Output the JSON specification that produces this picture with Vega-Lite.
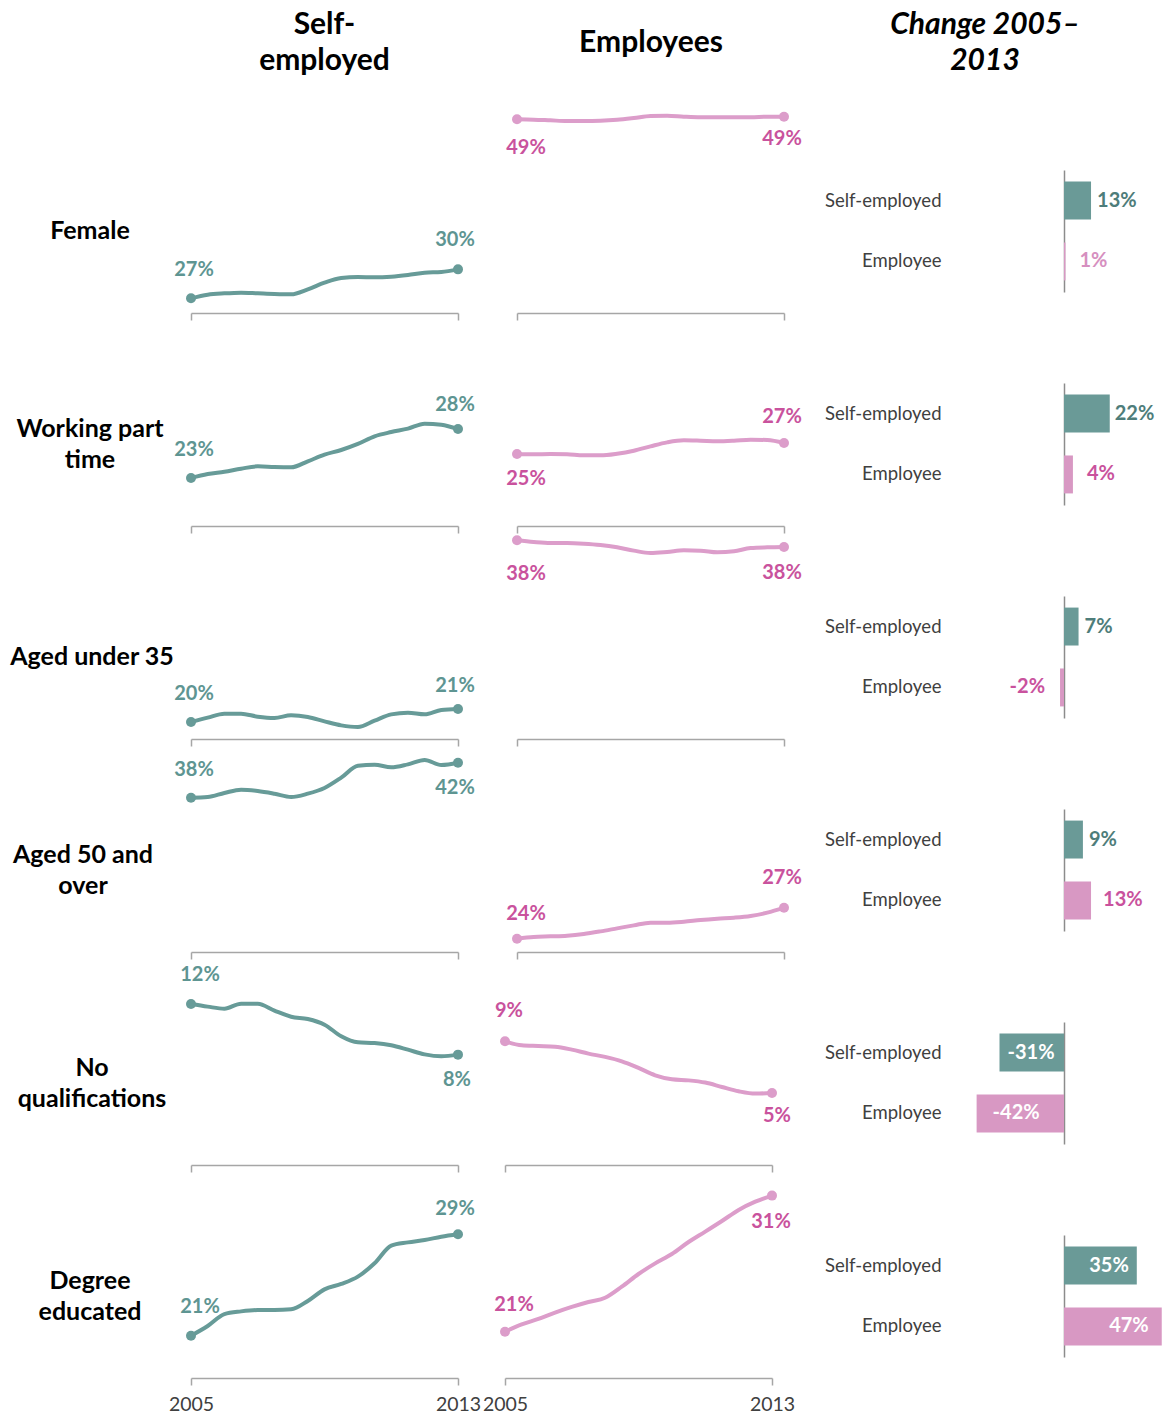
{
"$schema": "https://vega.github.io/schema/vega-lite/v6.json",
"padding": 0,
"background": "white",
"config": {
  "view": {"stroke": null},
  "font": "Lato",
  "locale": {"number": {"decimal": ".", "thousands": ",", "grouping": [3], "currency": ["$", ""], "minus": "-"}},
  "axis": {"grid": false, "title": null, "domainColor": "#a6a6a6", "domainWidth": 1.5, "tickColor": "#a6a6a6", "tickWidth": 1.5, "tickSize": 7, "labelFont": "Lato", "labelFontSize": 19.5, "labelColor": "#404040", "labelPadding": 10, "labelFlush": false, "labelOverlap": false},
  "text": {"font": "Lato", "baseline": "middle"},
  "line": {"strokeWidth": 4, "interpolate": "monotone"},
  "circle": {"size": 100, "opacity": 1}
},
"datasets": {
  "headers": [
    {"col": "SE", "title": "Self-\nemployed"},
    {"col": "Emp", "title": "Employees"},
    {"col": "Change", "title": "Change 2005–\n2013"}
  ],
  "rows": [
    {"cat": "Female", "label": "Female"},
    {"cat": "Working part time", "label": "Working part\ntime"},
    {"cat": "Aged under 35", "label": "Aged under 35"},
    {"cat": "Aged 50 and over", "label": "Aged 50 and\nover"},
    {"cat": "No qualifications", "label": "No\nqualifications"},
    {"cat": "Degree educated", "label": "Degree\neducated"}
  ],
  "change": [
    {"cat": "Female", "grp": "Self-employed", "change": 0.13},
    {"cat": "Female", "grp": "Employee", "change": 0.007},
    {"cat": "Working part time", "grp": "Self-employed", "change": 0.22},
    {"cat": "Working part time", "grp": "Employee", "change": 0.043},
    {"cat": "Aged under 35", "grp": "Self-employed", "change": 0.07},
    {"cat": "Aged under 35", "grp": "Employee", "change": -0.019},
    {"cat": "Aged 50 and over", "grp": "Self-employed", "change": 0.091},
    {"cat": "Aged 50 and over", "grp": "Employee", "change": 0.13},
    {"cat": "No qualifications", "grp": "Self-employed", "change": -0.31},
    {"cat": "No qualifications", "grp": "Employee", "change": -0.42},
    {"cat": "Degree educated", "grp": "Self-employed", "change": 0.35},
    {"cat": "Degree educated", "grp": "Employee", "change": 0.47}
  ],
  "series": [
    {"cat":"Female","grp":"SE","year":2005,"share":0.266},{"cat":"Female","grp":"SE","year":2005.5,"share":0.2703},{"cat":"Female","grp":"SE","year":2006,"share":0.2719},{"cat":"Female","grp":"SE","year":2006.5,"share":0.2727},{"cat":"Female","grp":"SE","year":2007,"share":0.2719},{"cat":"Female","grp":"SE","year":2007.5,"share":0.2711},{"cat":"Female","grp":"SE","year":2008,"share":0.2707},{"cat":"Female","grp":"SE","year":2008.5,"share":0.2766},{"cat":"Female","grp":"SE","year":2009,"share":0.2844},{"cat":"Female","grp":"SE","year":2009.5,"share":0.2899},{"cat":"Female","grp":"SE","year":2010,"share":0.2911},{"cat":"Female","grp":"SE","year":2010.5,"share":0.2907},{"cat":"Female","grp":"SE","year":2011,"share":0.2915},{"cat":"Female","grp":"SE","year":2011.5,"share":0.2935},{"cat":"Female","grp":"SE","year":2012,"share":0.2962},{"cat":"Female","grp":"SE","year":2012.5,"share":0.297},{"cat":"Female","grp":"SE","year":2013,"share":0.3001},
    {"cat":"Female","grp":"Emp","year":2005,"share":0.487},{"cat":"Female","grp":"Emp","year":2005.5,"share":0.4866},{"cat":"Female","grp":"Emp","year":2006,"share":0.4858},{"cat":"Female","grp":"Emp","year":2006.5,"share":0.485},{"cat":"Female","grp":"Emp","year":2007,"share":0.485},{"cat":"Female","grp":"Emp","year":2007.5,"share":0.4854},{"cat":"Female","grp":"Emp","year":2008,"share":0.4866},{"cat":"Female","grp":"Emp","year":2008.5,"share":0.4886},{"cat":"Female","grp":"Emp","year":2009,"share":0.4909},{"cat":"Female","grp":"Emp","year":2009.5,"share":0.4913},{"cat":"Female","grp":"Emp","year":2010,"share":0.4901},{"cat":"Female","grp":"Emp","year":2010.5,"share":0.4894},{"cat":"Female","grp":"Emp","year":2011,"share":0.4894},{"cat":"Female","grp":"Emp","year":2011.5,"share":0.4894},{"cat":"Female","grp":"Emp","year":2012,"share":0.4894},{"cat":"Female","grp":"Emp","year":2012.5,"share":0.4901},{"cat":"Female","grp":"Emp","year":2013,"share":0.4901},
    {"cat":"Working part time","grp":"SE","year":2005,"share":0.229},{"cat":"Working part time","grp":"SE","year":2005.5,"share":0.2331},{"cat":"Working part time","grp":"SE","year":2006,"share":0.2355},{"cat":"Working part time","grp":"SE","year":2006.5,"share":0.2386},{"cat":"Working part time","grp":"SE","year":2007,"share":0.241},{"cat":"Working part time","grp":"SE","year":2007.5,"share":0.2403},{"cat":"Working part time","grp":"SE","year":2008,"share":0.24},{"cat":"Working part time","grp":"SE","year":2008.5,"share":0.2462},{"cat":"Working part time","grp":"SE","year":2009,"share":0.2531},{"cat":"Working part time","grp":"SE","year":2009.5,"share":0.2579},{"cat":"Working part time","grp":"SE","year":2010,"share":0.2641},{"cat":"Working part time","grp":"SE","year":2010.5,"share":0.272},{"cat":"Working part time","grp":"SE","year":2011,"share":0.2764},{"cat":"Working part time","grp":"SE","year":2011.5,"share":0.2799},{"cat":"Working part time","grp":"SE","year":2012,"share":0.285},{"cat":"Working part time","grp":"SE","year":2012.5,"share":0.284},{"cat":"Working part time","grp":"SE","year":2013,"share":0.2795},
    {"cat":"Working part time","grp":"Emp","year":2005,"share":0.254},{"cat":"Working part time","grp":"Emp","year":2005.5,"share":0.2537},{"cat":"Working part time","grp":"Emp","year":2006,"share":0.254},{"cat":"Working part time","grp":"Emp","year":2006.5,"share":0.2537},{"cat":"Working part time","grp":"Emp","year":2007,"share":0.2526},{"cat":"Working part time","grp":"Emp","year":2007.5,"share":0.2526},{"cat":"Working part time","grp":"Emp","year":2008,"share":0.2543},{"cat":"Working part time","grp":"Emp","year":2008.5,"share":0.2574},{"cat":"Working part time","grp":"Emp","year":2009,"share":0.2619},{"cat":"Working part time","grp":"Emp","year":2009.5,"share":0.266},{"cat":"Working part time","grp":"Emp","year":2010,"share":0.2681},{"cat":"Working part time","grp":"Emp","year":2010.5,"share":0.2677},{"cat":"Working part time","grp":"Emp","year":2011,"share":0.2671},{"cat":"Working part time","grp":"Emp","year":2011.5,"share":0.2677},{"cat":"Working part time","grp":"Emp","year":2012,"share":0.2688},{"cat":"Working part time","grp":"Emp","year":2012.5,"share":0.2684},{"cat":"Working part time","grp":"Emp","year":2013,"share":0.2653},
    {"cat":"Aged under 35","grp":"SE","year":2005,"share":0.2},{"cat":"Aged under 35","grp":"SE","year":2005.5,"share":0.2047},{"cat":"Aged under 35","grp":"SE","year":2006,"share":0.209},{"cat":"Aged under 35","grp":"SE","year":2006.5,"share":0.209},{"cat":"Aged under 35","grp":"SE","year":2007,"share":0.2057},{"cat":"Aged under 35","grp":"SE","year":2007.5,"share":0.2043},{"cat":"Aged under 35","grp":"SE","year":2008,"share":0.2072},{"cat":"Aged under 35","grp":"SE","year":2008.5,"share":0.2054},{"cat":"Aged under 35","grp":"SE","year":2009,"share":0.2007},{"cat":"Aged under 35","grp":"SE","year":2009.5,"share":0.1964},{"cat":"Aged under 35","grp":"SE","year":2010,"share":0.1946},{"cat":"Aged under 35","grp":"SE","year":2010.5,"share":0.2014},{"cat":"Aged under 35","grp":"SE","year":2011,"share":0.2082},{"cat":"Aged under 35","grp":"SE","year":2011.5,"share":0.21},{"cat":"Aged under 35","grp":"SE","year":2012,"share":0.2082},{"cat":"Aged under 35","grp":"SE","year":2012.5,"share":0.2129},{"cat":"Aged under 35","grp":"SE","year":2013,"share":0.214},
    {"cat":"Aged under 35","grp":"Emp","year":2005,"share":0.384},{"cat":"Aged under 35","grp":"Emp","year":2005.5,"share":0.3822},{"cat":"Aged under 35","grp":"Emp","year":2006,"share":0.3811},{"cat":"Aged under 35","grp":"Emp","year":2006.5,"share":0.3811},{"cat":"Aged under 35","grp":"Emp","year":2007,"share":0.3804},{"cat":"Aged under 35","grp":"Emp","year":2007.5,"share":0.379},{"cat":"Aged under 35","grp":"Emp","year":2008,"share":0.3765},{"cat":"Aged under 35","grp":"Emp","year":2008.5,"share":0.3729},{"cat":"Aged under 35","grp":"Emp","year":2009,"share":0.3704},{"cat":"Aged under 35","grp":"Emp","year":2009.5,"share":0.3715},{"cat":"Aged under 35","grp":"Emp","year":2010,"share":0.3732},{"cat":"Aged under 35","grp":"Emp","year":2010.5,"share":0.3729},{"cat":"Aged under 35","grp":"Emp","year":2011,"share":0.3711},{"cat":"Aged under 35","grp":"Emp","year":2011.5,"share":0.3722},{"cat":"Aged under 35","grp":"Emp","year":2012,"share":0.3758},{"cat":"Aged under 35","grp":"Emp","year":2012.5,"share":0.3765},{"cat":"Aged under 35","grp":"Emp","year":2013,"share":0.3768},
    {"cat":"Aged 50 and over","grp":"SE","year":2005,"share":0.383},{"cat":"Aged 50 and over","grp":"SE","year":2005.5,"share":0.3837},{"cat":"Aged 50 and over","grp":"SE","year":2006,"share":0.3877},{"cat":"Aged 50 and over","grp":"SE","year":2006.5,"share":0.391},{"cat":"Aged 50 and over","grp":"SE","year":2007,"share":0.3897},{"cat":"Aged 50 and over","grp":"SE","year":2007.5,"share":0.387},{"cat":"Aged 50 and over","grp":"SE","year":2008,"share":0.3837},{"cat":"Aged 50 and over","grp":"SE","year":2008.5,"share":0.387},{"cat":"Aged 50 and over","grp":"SE","year":2009,"share":0.3927},{"cat":"Aged 50 and over","grp":"SE","year":2009.5,"share":0.403},{"cat":"Aged 50 and over","grp":"SE","year":2010,"share":0.415},{"cat":"Aged 50 and over","grp":"SE","year":2010.5,"share":0.416},{"cat":"Aged 50 and over","grp":"SE","year":2011,"share":0.4133},{"cat":"Aged 50 and over","grp":"SE","year":2011.5,"share":0.4163},{"cat":"Aged 50 and over","grp":"SE","year":2012,"share":0.4207},{"cat":"Aged 50 and over","grp":"SE","year":2012.5,"share":0.4157},{"cat":"Aged 50 and over","grp":"SE","year":2013,"share":0.418},
    {"cat":"Aged 50 and over","grp":"Emp","year":2005,"share":0.239},{"cat":"Aged 50 and over","grp":"Emp","year":2005.5,"share":0.2407},{"cat":"Aged 50 and over","grp":"Emp","year":2006,"share":0.2413},{"cat":"Aged 50 and over","grp":"Emp","year":2006.5,"share":0.242},{"cat":"Aged 50 and over","grp":"Emp","year":2007,"share":0.2437},{"cat":"Aged 50 and over","grp":"Emp","year":2007.5,"share":0.2463},{"cat":"Aged 50 and over","grp":"Emp","year":2008,"share":0.2493},{"cat":"Aged 50 and over","grp":"Emp","year":2008.5,"share":0.2523},{"cat":"Aged 50 and over","grp":"Emp","year":2009,"share":0.255},{"cat":"Aged 50 and over","grp":"Emp","year":2009.5,"share":0.255},{"cat":"Aged 50 and over","grp":"Emp","year":2010,"share":0.256},{"cat":"Aged 50 and over","grp":"Emp","year":2010.5,"share":0.2577},{"cat":"Aged 50 and over","grp":"Emp","year":2011,"share":0.259},{"cat":"Aged 50 and over","grp":"Emp","year":2011.5,"share":0.26},{"cat":"Aged 50 and over","grp":"Emp","year":2012,"share":0.2617},{"cat":"Aged 50 and over","grp":"Emp","year":2012.5,"share":0.265},{"cat":"Aged 50 and over","grp":"Emp","year":2013,"share":0.27},
    {"cat":"No qualifications","grp":"SE","year":2005,"share":0.118},{"cat":"No qualifications","grp":"SE","year":2005.5,"share":0.1161},{"cat":"No qualifications","grp":"SE","year":2006,"share":0.1146},{"cat":"No qualifications","grp":"SE","year":2006.5,"share":0.1182},{"cat":"No qualifications","grp":"SE","year":2007,"share":0.1182},{"cat":"No qualifications","grp":"SE","year":2007.5,"share":0.1132},{"cat":"No qualifications","grp":"SE","year":2008,"share":0.1088},{"cat":"No qualifications","grp":"SE","year":2008.5,"share":0.1071},{"cat":"No qualifications","grp":"SE","year":2009,"share":0.103},{"cat":"No qualifications","grp":"SE","year":2009.5,"share":0.0946},{"cat":"No qualifications","grp":"SE","year":2010,"share":0.0902},{"cat":"No qualifications","grp":"SE","year":2010.5,"share":0.0897},{"cat":"No qualifications","grp":"SE","year":2011,"share":0.0881},{"cat":"No qualifications","grp":"SE","year":2011.5,"share":0.0849},{"cat":"No qualifications","grp":"SE","year":2012,"share":0.0815},{"cat":"No qualifications","grp":"SE","year":2012.5,"share":0.0801},{"cat":"No qualifications","grp":"SE","year":2013,"share":0.0813},
    {"cat":"No qualifications","grp":"Emp","year":2005,"share":0.089},{"cat":"No qualifications","grp":"Emp","year":2005.5,"share":0.0861},{"cat":"No qualifications","grp":"Emp","year":2006,"share":0.0856},{"cat":"No qualifications","grp":"Emp","year":2006.5,"share":0.0851},{"cat":"No qualifications","grp":"Emp","year":2007,"share":0.083},{"cat":"No qualifications","grp":"Emp","year":2007.5,"share":0.0801},{"cat":"No qualifications","grp":"Emp","year":2008,"share":0.0777},{"cat":"No qualifications","grp":"Emp","year":2008.5,"share":0.0745},{"cat":"No qualifications","grp":"Emp","year":2009,"share":0.0697},{"cat":"No qualifications","grp":"Emp","year":2009.5,"share":0.0644},{"cat":"No qualifications","grp":"Emp","year":2010,"share":0.0615},{"cat":"No qualifications","grp":"Emp","year":2010.5,"share":0.0607},{"cat":"No qualifications","grp":"Emp","year":2011,"share":0.0591},{"cat":"No qualifications","grp":"Emp","year":2011.5,"share":0.0559},{"cat":"No qualifications","grp":"Emp","year":2012,"share":0.0528},{"cat":"No qualifications","grp":"Emp","year":2012.5,"share":0.0511},{"cat":"No qualifications","grp":"Emp","year":2013,"share":0.0516},
    {"cat":"Degree educated","grp":"SE","year":2005,"share":0.214},{"cat":"Degree educated","grp":"SE","year":2005.5,"share":0.2212},{"cat":"Degree educated","grp":"SE","year":2006,"share":0.23},{"cat":"Degree educated","grp":"SE","year":2006.5,"share":0.232},{"cat":"Degree educated","grp":"SE","year":2007,"share":0.233},{"cat":"Degree educated","grp":"SE","year":2007.5,"share":0.233},{"cat":"Degree educated","grp":"SE","year":2008,"share":0.2335},{"cat":"Degree educated","grp":"SE","year":2008.5,"share":0.2397},{"cat":"Degree educated","grp":"SE","year":2009,"share":0.2483},{"cat":"Degree educated","grp":"SE","year":2009.5,"share":0.2523},{"cat":"Degree educated","grp":"SE","year":2010,"share":0.2577},{"cat":"Degree educated","grp":"SE","year":2010.5,"share":0.2676},{"cat":"Degree educated","grp":"SE","year":2011,"share":0.2807},{"cat":"Degree educated","grp":"SE","year":2011.5,"share":0.2831},{"cat":"Degree educated","grp":"SE","year":2012,"share":0.2849},{"cat":"Degree educated","grp":"SE","year":2012.5,"share":0.2873},{"cat":"Degree educated","grp":"SE","year":2013,"share":0.2891},
    {"cat":"Degree educated","grp":"Emp","year":2005,"share":0.21},{"cat":"Degree educated","grp":"Emp","year":2005.5,"share":0.2153},{"cat":"Degree educated","grp":"Emp","year":2006,"share":0.2192},{"cat":"Degree educated","grp":"Emp","year":2006.5,"share":0.2238},{"cat":"Degree educated","grp":"Emp","year":2007,"share":0.2279},{"cat":"Degree educated","grp":"Emp","year":2007.5,"share":0.2315},{"cat":"Degree educated","grp":"Emp","year":2008,"share":0.2346},{"cat":"Degree educated","grp":"Emp","year":2008.5,"share":0.2426},{"cat":"Degree educated","grp":"Emp","year":2009,"share":0.2518},{"cat":"Degree educated","grp":"Emp","year":2009.5,"share":0.2595},{"cat":"Degree educated","grp":"Emp","year":2010,"share":0.2663},{"cat":"Degree educated","grp":"Emp","year":2010.5,"share":0.275},{"cat":"Degree educated","grp":"Emp","year":2011,"share":0.2825},{"cat":"Degree educated","grp":"Emp","year":2011.5,"share":0.2902},{"cat":"Degree educated","grp":"Emp","year":2012,"share":0.2982},{"cat":"Degree educated","grp":"Emp","year":2012.5,"share":0.3042},{"cat":"Degree educated","grp":"Emp","year":2013,"share":0.3086}
  ]
},
"columns": 4,
"spacing": {"row": 70, "column": 0},
"bounds": "flush",
"align": "each",
"concat": [
    {"width": 180, "height": 100, "data": {"values": []}, "mark": {"type": "text"}},
    {"width": 278, "height": 100, "data": {"name": "headers"}, "transform": [{"filter": "datum.col === 'SE'"}], "mark": {"type": "text", "fontSize": 30, "fontWeight": "bold", "color": "black", "lineBreak": "\n", "lineHeight": 36, "dx": 5.5, "dy": -25}, "encoding": {"text": {"field": "title"}}},
    {"width": 326, "height": 100, "data": {"name": "headers"}, "transform": [{"filter": "datum.col === 'Emp'"}], "mark": {"type": "text", "fontSize": 30, "fontWeight": "bold", "color": "black", "lineBreak": "\n", "lineHeight": 36, "dx": 30, "dy": -7}, "encoding": {"text": {"field": "title"}}},
    {"width": 379, "height": 100, "data": {"name": "headers"}, "transform": [{"filter": "datum.col === 'Change'"}], "mark": {"type": "text", "fontSize": 30, "fontWeight": "bold", "fontStyle": "italic", "color": "black", "lineBreak": "\n", "lineHeight": 36, "dx": 11.5, "dy": -25}, "encoding": {"text": {"field": "title"}}},

    {"width": 180, "height": 143, "data": {"name": "rows"}, "transform": [{"filter": "datum.cat === 'Female'"}], "mark": {"type": "text", "fontSize": 25, "fontWeight": "bold", "color": "black", "lineBreak": "\n", "lineHeight": 31, "dy": -10.5}, "encoding": {"text": {"field": "label"}}},
    {"width": 278, "height": 143, "data": {"name": "series"}, "transform": [{"filter": "datum.cat === 'Female' && datum.grp === 'SE'"}],
     "encoding": {"x": {"field": "year", "type": "quantitative", "scale": {"domain": [2005, 2013], "range": [11, 278]}, "axis": {"values": [2005, 2013], "format": "d", "labels": false}},
                  "y": {"field": "share", "type": "quantitative", "scale": {"domain": [0.24874, 0.41698], "zero": false, "nice": false}, "axis": null}},
     "layer": [
       {"mark": {"type": "line", "color": "#679b98"}},
       {"transform": [{"filter": "datum.year === 2005 || datum.year === 2013"}], "mark": {"type": "circle", "color": "#679b98"}},
       {"transform": [{"filter": "datum.year === 2005"}], "mark": {"type": "text", "color": "#5e9592", "fontSize": 20, "fontWeight": "bold", "dx": 3, "dy": -28}, "encoding": {"text": {"field": "share", "format": ".0%"}}},
       {"transform": [{"filter": "datum.year === 2013"}], "mark": {"type": "text", "color": "#5e9592", "fontSize": 20, "fontWeight": "bold", "dx": -3, "dy": -29}, "encoding": {"text": {"field": "share", "format": ".0%"}}}
     ]},
    {"width": 326, "height": 143, "data": {"name": "series"}, "transform": [{"filter": "datum.cat === 'Female' && datum.grp === 'Emp'"}],
     "encoding": {"x": {"field": "year", "type": "quantitative", "scale": {"domain": [2005, 2013], "range": [59, 326]}, "axis": {"values": [2005, 2013], "format": "d", "labels": false}},
                  "y": {"field": "share", "type": "quantitative", "scale": {"domain": [0.2592, 0.4274], "zero": false, "nice": false}, "axis": null}},
     "layer": [
       {"mark": {"type": "line", "color": "#dc9dca"}},
       {"transform": [{"filter": "datum.year === 2005 || datum.year === 2013"}], "mark": {"type": "circle", "color": "#dc9dca"}},
       {"transform": [{"filter": "datum.year === 2005"}], "mark": {"type": "text", "color": "#c9529d", "fontSize": 20, "fontWeight": "bold", "dx": 9, "dy": 29}, "encoding": {"text": {"field": "share", "format": ".0%"}}},
       {"transform": [{"filter": "datum.year === 2013"}], "mark": {"type": "text", "color": "#c9529d", "fontSize": 20, "fontWeight": "bold", "dx": -2, "dy": 22}, "encoding": {"text": {"field": "share", "format": ".0%"}}}
     ]},
    {"width": 379, "height": 122, "data": {"name": "change"}, "transform": [{"filter": "datum.cat === 'Female'"}],
     "encoding": {"y": {"field": "grp", "type": "nominal", "scale": {"domain": ["Self-employed", "Employee"], "paddingInner": 0.377, "paddingOuter": 0.19}, "axis": {"offset": -280, "labelPadding": 123, "ticks": false, "domainColor": "#8c8c8c", "domainWidth": 1.5, "labelFontSize": 18.5, "labelColor": "#404040"}},
                  "x": {"field": "change", "type": "quantitative", "scale": {"domain": [-1.346, 0.476]}, "axis": null}},
     "layer": [
       {"mark": {"type": "bar"}, "encoding": {"color": {"condition": {"test": "datum.grp === 'Self-employed'", "value": "#6a9a97"}, "value": "#d898c3"}}},
       {"transform": [{"filter": "datum.grp === 'Self-employed' && datum.change >= 0"}], "mark": {"type": "text", "align": "left", "dx": 6, "fontSize": 20, "fontWeight": "bold", "color": "#4e7d7a"}, "encoding": {"text": {"field": "change", "format": ".0%"}}},
       {"transform": [{"filter": "datum.grp === 'Employee' && datum.change >= 0"}], "mark": {"type": "text", "align": "left", "dx": 14, "fontSize": 20, "fontWeight": "bold", "color": "#d68fc0"}, "encoding": {"text": {"field": "change", "format": ".0%"}}}
     ]},

    {"width": 180, "height": 143, "data": {"name": "rows"}, "transform": [{"filter": "datum.cat === 'Working part time'"}], "mark": {"type": "text", "fontSize": 25, "fontWeight": "bold", "color": "black", "lineBreak": "\n", "lineHeight": 31, "dy": -26}, "encoding": {"text": {"field": "label"}}},
    {"width": 278, "height": 143, "data": {"name": "series"}, "transform": [{"filter": "datum.cat === 'Working part time' && datum.grp === 'SE'"}],
     "encoding": {"x": {"field": "year", "type": "quantitative", "scale": {"domain": [2005, 2013], "range": [11, 278]}, "axis": {"values": [2005, 2013], "format": "d", "labels": false}},
                  "y": {"field": "share", "type": "quantitative", "scale": {"domain": [0.17952, 0.32694], "zero": false, "nice": false}, "axis": null}},
     "layer": [
       {"mark": {"type": "line", "color": "#679b98"}},
       {"transform": [{"filter": "datum.year === 2005 || datum.year === 2013"}], "mark": {"type": "circle", "color": "#679b98"}},
       {"transform": [{"filter": "datum.year === 2005"}], "mark": {"type": "text", "color": "#5e9592", "fontSize": 20, "fontWeight": "bold", "dx": 3, "dy": -28}, "encoding": {"text": {"field": "share", "format": ".0%"}}},
       {"transform": [{"filter": "datum.year === 2013"}], "mark": {"type": "text", "color": "#5e9592", "fontSize": 20, "fontWeight": "bold", "dx": -3, "dy": -24}, "encoding": {"text": {"field": "share", "format": ".0%"}}}
     ]},
    {"width": 326, "height": 143, "data": {"name": "series"}, "transform": [{"filter": "datum.cat === 'Working part time' && datum.grp === 'Emp'"}],
     "encoding": {"x": {"field": "year", "type": "quantitative", "scale": {"domain": [2005, 2013], "range": [59, 326]}, "axis": {"values": [2005, 2013], "format": "d", "labels": false}},
                  "y": {"field": "share", "type": "quantitative", "scale": {"domain": [0.17977, 0.32719], "zero": false, "nice": false}, "axis": null}},
     "layer": [
       {"mark": {"type": "line", "color": "#dc9dca"}},
       {"transform": [{"filter": "datum.year === 2005 || datum.year === 2013"}], "mark": {"type": "circle", "color": "#dc9dca"}},
       {"transform": [{"filter": "datum.year === 2005"}], "mark": {"type": "text", "color": "#c9529d", "fontSize": 20, "fontWeight": "bold", "dx": 9, "dy": 25}, "encoding": {"text": {"field": "share", "format": ".0%"}}},
       {"transform": [{"filter": "datum.year === 2013"}], "mark": {"type": "text", "color": "#c9529d", "fontSize": 20, "fontWeight": "bold", "dx": -2, "dy": -26}, "encoding": {"text": {"field": "share", "format": ".0%"}}}
     ]},
    {"width": 379, "height": 122, "data": {"name": "change"}, "transform": [{"filter": "datum.cat === 'Working part time'"}],
     "encoding": {"y": {"field": "grp", "type": "nominal", "scale": {"domain": ["Self-employed", "Employee"], "paddingInner": 0.377, "paddingOuter": 0.19}, "axis": {"offset": -280, "labelPadding": 123, "ticks": false, "domainColor": "#8c8c8c", "domainWidth": 1.5, "labelFontSize": 18.5, "labelColor": "#404040"}},
                  "x": {"field": "change", "type": "quantitative", "scale": {"domain": [-1.346, 0.476]}, "axis": null}},
     "layer": [
       {"mark": {"type": "bar"}, "encoding": {"color": {"condition": {"test": "datum.grp === 'Self-employed'", "value": "#6a9a97"}, "value": "#d898c3"}}},
       {"transform": [{"filter": "datum.grp === 'Self-employed' && datum.change >= 0"}], "mark": {"type": "text", "align": "left", "dx": 5, "fontSize": 20, "fontWeight": "bold", "color": "#4e7d7a"}, "encoding": {"text": {"field": "change", "format": ".0%"}}},
       {"transform": [{"filter": "datum.grp === 'Employee' && datum.change >= 0"}], "mark": {"type": "text", "align": "left", "dx": 14, "fontSize": 20, "fontWeight": "bold", "color": "#c9529d"}, "encoding": {"text": {"field": "change", "format": ".0%"}}}
     ]},

    {"width": 180, "height": 143, "data": {"name": "rows"}, "transform": [{"filter": "datum.cat === 'Aged under 35'"}], "mark": {"type": "text", "fontSize": 25, "fontWeight": "bold", "color": "black", "lineBreak": "\n", "lineHeight": 31, "dy": -10.5, "dx": 2}, "encoding": {"text": {"field": "label"}}},
    {"width": 278, "height": 143, "data": {"name": "series"}, "transform": [{"filter": "datum.cat === 'Aged under 35' && datum.grp === 'SE'"}],
     "encoding": {"x": {"field": "year", "type": "quantitative", "scale": {"domain": [2005, 2013], "range": [11, 278]}, "axis": {"values": [2005, 2013], "format": "d", "labels": false}},
                  "y": {"field": "share", "type": "quantitative", "scale": {"domain": [0.18172, 0.33548], "zero": false, "nice": false}, "axis": null}},
     "layer": [
       {"mark": {"type": "line", "color": "#679b98"}},
       {"transform": [{"filter": "datum.year === 2005 || datum.year === 2013"}], "mark": {"type": "circle", "color": "#679b98"}},
       {"transform": [{"filter": "datum.year === 2005"}], "mark": {"type": "text", "color": "#5e9592", "fontSize": 20, "fontWeight": "bold", "dx": 3, "dy": -28}, "encoding": {"text": {"field": "share", "format": ".0%"}}},
       {"transform": [{"filter": "datum.year === 2013"}], "mark": {"type": "text", "color": "#5e9592", "fontSize": 20, "fontWeight": "bold", "dx": -3, "dy": -23}, "encoding": {"text": {"field": "share", "format": ".0%"}}}
     ]},
    {"width": 326, "height": 143, "data": {"name": "series"}, "transform": [{"filter": "datum.cat === 'Aged under 35' && datum.grp === 'Emp'"}],
     "encoding": {"x": {"field": "year", "type": "quantitative", "scale": {"domain": [2005, 2013], "range": [59, 326]}, "axis": {"values": [2005, 2013], "format": "d", "labels": false}},
                  "y": {"field": "share", "type": "quantitative", "scale": {"domain": [0.17038, 0.32414], "zero": false, "nice": false}, "axis": null}},
     "layer": [
       {"mark": {"type": "line", "color": "#dc9dca"}},
       {"transform": [{"filter": "datum.year === 2005 || datum.year === 2013"}], "mark": {"type": "circle", "color": "#dc9dca"}},
       {"transform": [{"filter": "datum.year === 2005"}], "mark": {"type": "text", "color": "#c9529d", "fontSize": 20, "fontWeight": "bold", "dx": 9, "dy": 34}, "encoding": {"text": {"field": "share", "format": ".0%"}}},
       {"transform": [{"filter": "datum.year === 2013"}], "mark": {"type": "text", "color": "#c9529d", "fontSize": 20, "fontWeight": "bold", "dx": -2, "dy": 26}, "encoding": {"text": {"field": "share", "format": ".0%"}}}
     ]},
    {"width": 379, "height": 122, "data": {"name": "change"}, "transform": [{"filter": "datum.cat === 'Aged under 35'"}],
     "encoding": {"y": {"field": "grp", "type": "nominal", "scale": {"domain": ["Self-employed", "Employee"], "paddingInner": 0.377, "paddingOuter": 0.19}, "axis": {"offset": -280, "labelPadding": 123, "ticks": false, "domainColor": "#8c8c8c", "domainWidth": 1.5, "labelFontSize": 18.5, "labelColor": "#404040"}},
                  "x": {"field": "change", "type": "quantitative", "scale": {"domain": [-1.346, 0.476]}, "axis": null}},
     "layer": [
       {"mark": {"type": "bar"}, "encoding": {"color": {"condition": {"test": "datum.grp === 'Self-employed'", "value": "#6a9a97"}, "value": "#d898c3"}}},
       {"transform": [{"filter": "datum.grp === 'Self-employed' && datum.change >= 0"}], "mark": {"type": "text", "align": "left", "dx": 6, "fontSize": 20, "fontWeight": "bold", "color": "#4e7d7a"}, "encoding": {"text": {"field": "change", "format": ".0%"}}},
       {"transform": [{"filter": "datum.grp === 'Employee' && datum.change < 0"}], "mark": {"type": "text", "align": "right", "dx": -15, "fontSize": 20, "fontWeight": "bold", "color": "#c9529d"}, "encoding": {"text": {"field": "change", "format": ".0%"}}}
     ]},

    {"width": 180, "height": 143, "data": {"name": "rows"}, "transform": [{"filter": "datum.cat === 'Aged 50 and over'"}], "mark": {"type": "text", "fontSize": 25, "fontWeight": "bold", "color": "black", "lineBreak": "\n", "lineHeight": 31, "dy": -26, "dx": -7}, "encoding": {"text": {"field": "label"}}},
    {"width": 278, "height": 143, "data": {"name": "series"}, "transform": [{"filter": "datum.cat === 'Aged 50 and over' && datum.grp === 'SE'"}],
     "encoding": {"x": {"field": "year", "type": "quantitative", "scale": {"domain": [2005, 2013], "range": [11, 278]}, "axis": {"values": [2005, 2013], "format": "d", "labels": false}},
                  "y": {"field": "share", "type": "quantitative", "scale": {"domain": [0.22867, 0.37167], "zero": false, "nice": false}, "axis": null}},
     "layer": [
       {"mark": {"type": "line", "color": "#679b98"}},
       {"transform": [{"filter": "datum.year === 2005 || datum.year === 2013"}], "mark": {"type": "circle", "color": "#679b98"}},
       {"transform": [{"filter": "datum.year === 2005"}], "mark": {"type": "text", "color": "#5e9592", "fontSize": 20, "fontWeight": "bold", "dx": 3, "dy": -28}, "encoding": {"text": {"field": "share", "format": ".0%"}}},
       {"transform": [{"filter": "datum.year === 2013"}], "mark": {"type": "text", "color": "#5e9592", "fontSize": 20, "fontWeight": "bold", "dx": -3, "dy": 25}, "encoding": {"text": {"field": "share", "format": ".0%"}}}
     ]},
    {"width": 326, "height": 143, "data": {"name": "series"}, "transform": [{"filter": "datum.cat === 'Aged 50 and over' && datum.grp === 'Emp'"}],
     "encoding": {"x": {"field": "year", "type": "quantitative", "scale": {"domain": [2005, 2013], "range": [59, 326]}, "axis": {"values": [2005, 2013], "format": "d", "labels": false}},
                  "y": {"field": "share", "type": "quantitative", "scale": {"domain": [0.22567, 0.36867], "zero": false, "nice": false}, "axis": null}},
     "layer": [
       {"mark": {"type": "line", "color": "#dc9dca"}},
       {"transform": [{"filter": "datum.year === 2005 || datum.year === 2013"}], "mark": {"type": "circle", "color": "#dc9dca"}},
       {"transform": [{"filter": "datum.year === 2005"}], "mark": {"type": "text", "color": "#c9529d", "fontSize": 20, "fontWeight": "bold", "dx": 9, "dy": -25}, "encoding": {"text": {"field": "share", "format": ".0%"}}},
       {"transform": [{"filter": "datum.year === 2013"}], "mark": {"type": "text", "color": "#c9529d", "fontSize": 20, "fontWeight": "bold", "dx": -2, "dy": -30}, "encoding": {"text": {"field": "share", "format": ".0%"}}}
     ]},
    {"width": 379, "height": 122, "data": {"name": "change"}, "transform": [{"filter": "datum.cat === 'Aged 50 and over'"}],
     "encoding": {"y": {"field": "grp", "type": "nominal", "scale": {"domain": ["Self-employed", "Employee"], "paddingInner": 0.377, "paddingOuter": 0.19}, "axis": {"offset": -280, "labelPadding": 123, "ticks": false, "domainColor": "#8c8c8c", "domainWidth": 1.5, "labelFontSize": 18.5, "labelColor": "#404040"}},
                  "x": {"field": "change", "type": "quantitative", "scale": {"domain": [-1.346, 0.476]}, "axis": null}},
     "layer": [
       {"mark": {"type": "bar"}, "encoding": {"color": {"condition": {"test": "datum.grp === 'Self-employed'", "value": "#6a9a97"}, "value": "#d898c3"}}},
       {"transform": [{"filter": "datum.grp === 'Self-employed' && datum.change >= 0"}], "mark": {"type": "text", "align": "left", "dx": 6, "fontSize": 20, "fontWeight": "bold", "color": "#4e7d7a"}, "encoding": {"text": {"field": "change", "format": ".0%"}}},
       {"transform": [{"filter": "datum.grp === 'Employee' && datum.change >= 0"}], "mark": {"type": "text", "align": "left", "dx": 12, "fontSize": 20, "fontWeight": "bold", "color": "#c9529d"}, "encoding": {"text": {"field": "change", "format": ".0%"}}}
     ]},

    {"width": 180, "height": 143, "data": {"name": "rows"}, "transform": [{"filter": "datum.cat === 'No qualifications'"}], "mark": {"type": "text", "fontSize": 25, "fontWeight": "bold", "color": "black", "lineBreak": "\n", "lineHeight": 31, "dy": -26, "dx": 2}, "encoding": {"text": {"field": "label"}}},
    {"width": 278, "height": 143, "data": {"name": "series"}, "transform": [{"filter": "datum.cat === 'No qualifications' && datum.grp === 'SE'"}],
     "encoding": {"x": {"field": "year", "type": "quantitative", "scale": {"domain": [2005, 2013], "range": [11, 278]}, "axis": {"values": [2005, 2013], "format": "d", "labels": false}},
                  "y": {"field": "share", "type": "quantitative", "scale": {"domain": [0.00133, 0.10495], "zero": false, "nice": false}, "axis": null}},
     "layer": [
       {"mark": {"type": "line", "color": "#679b98"}},
       {"transform": [{"filter": "datum.year === 2005 || datum.year === 2013"}], "mark": {"type": "circle", "color": "#679b98"}},
       {"transform": [{"filter": "datum.year === 2005"}], "mark": {"type": "text", "color": "#5e9592", "fontSize": 20, "fontWeight": "bold", "dx": 9, "dy": -29}, "encoding": {"text": {"field": "share", "format": ".0%"}}},
       {"transform": [{"filter": "datum.year === 2013"}], "mark": {"type": "text", "color": "#5e9592", "fontSize": 20, "fontWeight": "bold", "dx": -1, "dy": 25}, "encoding": {"text": {"field": "share", "format": ".0%"}}}
     ]},
    {"width": 326, "height": 143, "data": {"name": "series"}, "transform": [{"filter": "datum.cat === 'No qualifications' && datum.grp === 'Emp'"}],
     "encoding": {"x": {"field": "year", "type": "quantitative", "scale": {"domain": [2005, 2013], "range": [47, 314]}, "axis": {"values": [2005, 2013], "format": "d", "labels": false}},
                  "y": {"field": "share", "type": "quantitative", "scale": {"domain": [-0.00062, 0.103], "zero": false, "nice": false}, "axis": null}},
     "layer": [
       {"mark": {"type": "line", "color": "#dc9dca"}},
       {"transform": [{"filter": "datum.year === 2005 || datum.year === 2013"}], "mark": {"type": "circle", "color": "#dc9dca"}},
       {"transform": [{"filter": "datum.year === 2005"}], "mark": {"type": "text", "color": "#c9529d", "fontSize": 20, "fontWeight": "bold", "dx": 4, "dy": -30}, "encoding": {"text": {"field": "share", "format": ".0%"}}},
       {"transform": [{"filter": "datum.year === 2013"}], "mark": {"type": "text", "color": "#c9529d", "fontSize": 20, "fontWeight": "bold", "dx": 5, "dy": 23}, "encoding": {"text": {"field": "share", "format": ".0%"}}}
     ]},
    {"width": 379, "height": 122, "data": {"name": "change"}, "transform": [{"filter": "datum.cat === 'No qualifications'"}],
     "encoding": {"y": {"field": "grp", "type": "nominal", "scale": {"domain": ["Self-employed", "Employee"], "paddingInner": 0.377, "paddingOuter": 0.19}, "axis": {"offset": -280, "labelPadding": 123, "ticks": false, "domainColor": "#8c8c8c", "domainWidth": 1.5, "labelFontSize": 18.5, "labelColor": "#404040"}},
                  "x": {"field": "change", "type": "quantitative", "scale": {"domain": [-1.346, 0.476]}, "axis": null}},
     "layer": [
       {"mark": {"type": "bar"}, "encoding": {"color": {"condition": {"test": "datum.grp === 'Self-employed'", "value": "#6a9a97"}, "value": "#d898c3"}}},
       {"transform": [{"filter": "datum.grp === 'Self-employed' && datum.change <= -0.3"}], "mark": {"type": "text", "align": "left", "dx": 8, "fontSize": 20, "fontWeight": "bold", "color": "white"}, "encoding": {"text": {"field": "change", "format": ".0%"}}},
       {"transform": [{"filter": "datum.grp === 'Employee' && datum.change <= -0.3"}], "mark": {"type": "text", "align": "left", "dx": 16, "fontSize": 20, "fontWeight": "bold", "color": "white"}, "encoding": {"text": {"field": "change", "format": ".0%"}}}
     ]},

    {"width": 180, "height": 143, "data": {"name": "rows"}, "transform": [{"filter": "datum.cat === 'Degree educated'"}], "mark": {"type": "text", "fontSize": 25, "fontWeight": "bold", "color": "black", "lineBreak": "\n", "lineHeight": 31, "dy": -26}, "encoding": {"text": {"field": "label"}}},
    {"width": 278, "height": 143, "data": {"name": "series"}, "transform": [{"filter": "datum.cat === 'Degree educated' && datum.grp === 'SE'"}],
     "encoding": {"x": {"field": "year", "type": "quantitative", "scale": {"domain": [2005, 2013], "range": [11, 278]}, "axis": {"values": [2005, 2013], "format": "d", "labels": true}},
                  "y": {"field": "share", "type": "quantitative", "scale": {"domain": [0.18264, 0.28857], "zero": false, "nice": false}, "axis": null}},
     "layer": [
       {"mark": {"type": "line", "color": "#679b98"}},
       {"transform": [{"filter": "datum.year === 2005 || datum.year === 2013"}], "mark": {"type": "circle", "color": "#679b98"}},
       {"transform": [{"filter": "datum.year === 2005"}], "mark": {"type": "text", "color": "#5e9592", "fontSize": 20, "fontWeight": "bold", "dx": 9, "dy": -29}, "encoding": {"text": {"field": "share", "format": ".0%"}}},
       {"transform": [{"filter": "datum.year === 2013"}], "mark": {"type": "text", "color": "#5e9592", "fontSize": 20, "fontWeight": "bold", "dx": -3, "dy": -25}, "encoding": {"text": {"field": "share", "format": ".0%"}}}
     ]},
    {"width": 326, "height": 143, "data": {"name": "series"}, "transform": [{"filter": "datum.cat === 'Degree educated' && datum.grp === 'Emp'"}],
     "encoding": {"x": {"field": "year", "type": "quantitative", "scale": {"domain": [2005, 2013], "range": [47, 314]}, "axis": {"values": [2005, 2013], "format": "d", "labels": true}},
                  "y": {"field": "share", "type": "quantitative", "scale": {"domain": [0.17643, 0.28005], "zero": false, "nice": false}, "axis": null}},
     "layer": [
       {"mark": {"type": "line", "color": "#dc9dca"}},
       {"transform": [{"filter": "datum.year === 2005 || datum.year === 2013"}], "mark": {"type": "circle", "color": "#dc9dca"}},
       {"transform": [{"filter": "datum.year === 2005"}], "mark": {"type": "text", "color": "#c9529d", "fontSize": 20, "fontWeight": "bold", "dx": 9, "dy": -27}, "encoding": {"text": {"field": "share", "format": ".0%"}}},
       {"transform": [{"filter": "datum.year === 2013"}], "mark": {"type": "text", "color": "#c9529d", "fontSize": 20, "fontWeight": "bold", "dx": -1, "dy": 26}, "encoding": {"text": {"field": "share", "format": ".0%"}}}
     ]},
    {"width": 379, "height": 122, "data": {"name": "change"}, "transform": [{"filter": "datum.cat === 'Degree educated'"}],
     "encoding": {"y": {"field": "grp", "type": "nominal", "scale": {"domain": ["Self-employed", "Employee"], "paddingInner": 0.377, "paddingOuter": 0.19}, "axis": {"offset": -280, "labelPadding": 123, "ticks": false, "domainColor": "#8c8c8c", "domainWidth": 1.5, "labelFontSize": 18.5, "labelColor": "#404040"}},
                  "x": {"field": "change", "type": "quantitative", "scale": {"domain": [-1.346, 0.476]}, "axis": null}},
     "layer": [
       {"mark": {"type": "bar"}, "encoding": {"color": {"condition": {"test": "datum.grp === 'Self-employed'", "value": "#6a9a97"}, "value": "#d898c3"}}},
       {"transform": [{"filter": "datum.grp === 'Self-employed' && datum.change >= 0.3"}], "mark": {"type": "text", "align": "right", "dx": -8, "fontSize": 20, "fontWeight": "bold", "color": "white"}, "encoding": {"text": {"field": "change", "format": ".0%"}}},
       {"transform": [{"filter": "datum.grp === 'Employee' && datum.change >= 0.3"}], "mark": {"type": "text", "align": "right", "dx": -13, "fontSize": 20, "fontWeight": "bold", "color": "white"}, "encoding": {"text": {"field": "change", "format": ".0%"}}}
     ]}
]
}
